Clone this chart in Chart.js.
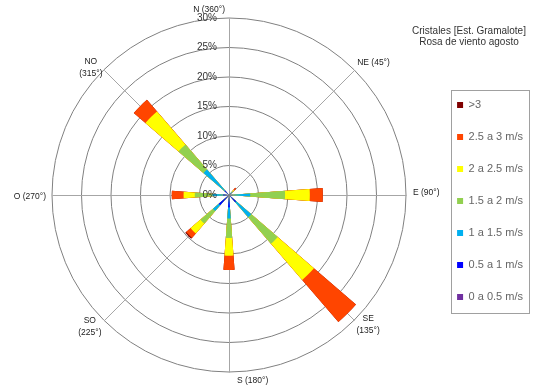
<!DOCTYPE html>
<html>
<head>
<meta charset="utf-8">
<title>Rosa de viento agosto</title>
<script src="https://cdn.jsdelivr.net/npm/chart.js@4.4.1/dist/chart.umd.min.js"></script>
<style>
  html, body { margin: 0; padding: 0; background: #fff; }
</style>
</head>
<body>
<canvas id="rose" width="533" height="385"></canvas>
<script>
// 16 compass directions, frequencies in % per speed class
const directions = ['N', 'NNE', 'NE', 'ENE', 'E', 'ESE', 'SE', 'SSE',
  'S', 'SSW', 'SW', 'WSW', 'W', 'WNW', 'NW', 'NNW'];

const speedClasses = ['0 a 0.5 m/s', '0.5 a 1 m/s', '1 a 1.5 m/s', '1.5 a 2 m/s',
  '2 a 2.5 m/s', '2.5 a 3 m/s', '>3'];
const classColors = ['#7030a0', '#0000ff', '#00b0f0', '#92d050', '#ffff00', '#ff4500', '#800000'];

const v0_05  = [0, 0, 0.1, 0, 0.1, 0, 0.1, 0, 0.1, 0, 0.1, 0, 0.1, 0, 0.1, 0];
const v05_1  = [0, 0, 0.3, 0, 0.5, 0, 1.5, 0, 2.0, 0, 2.2, 0, 0.9, 0, 0.9, 0];
const v1_15  = [0, 0, 0.3, 0, 3.0, 0, 3.4, 0, 1.9, 0, 1.3, 0, 1.8, 0, 4.7, 0];
const v15_2  = [0, 0, 0.2, 0, 5.9, 0, 5.9, 0, 3.3, 0, 2.8, 0, 3.0, 0, 5.6, 0];
const v2_25  = [0, 0, 0.3, 0, 4.2, 0, 8.1, 0, 3.0, 0, 2.2, 0, 1.9, 0, 7.4, 0];
const v25_3  = [0, 0, 0.4, 0, 2.2, 0, 9.4, 0, 2.4, 0, 1.0, 0, 2.0, 0, 2.6, 0];
const v3plus = [0, 0, 0,   0, 0,   0, 0,   0, 0,   0, 0.2, 0, 0,   0, 0,   0];

const compassAngles = [0, 45, 90, 135, 180, 225, 270, 315];
const compassLabels = ['N (360°)', 'NE (45°)', 'E (90°)', ['SE', '(135°)'],
  'S (180°)', ['SO', '(225°)'], 'O (270°)', ['NO', '(315°)']];

const titleLines = ['Cristales [Est. Gramalote]', 'Rosa de viento agosto'];

const petalWidth = 8.5;               // degrees
const gapWidth = 22.5 - petalWidth;

Chart.defaults.font.family = "'Liberation Sans', Arial, sans-serif";

// each class is stacked on the previous ones; dataset 0 is drawn on top
const classValues = [v0_05, v05_1, v1_15, v15_2, v2_25, v25_3, v3plus];
let running = directions.map(() => 0);
const datasets = classValues.map((vals, k) => {
  running = running.map((r, i) => r + vals[i]);
  const data = [];
  running.forEach(r => data.push(r, 0));   // petal, then empty gap
  return {
    label: speedClasses[k],
    data: data,
    backgroundColor: classColors[k],
    borderWidth: 0,
    angle: (c) => c.dataIndex % 2 ? gapWidth : petalWidth
  };
});

const labels = [];
directions.forEach(d => labels.push(d, ''));

const roseDecor = {
  id: 'roseDecor',
  beforeDatasetsDraw(chart) {
    const r = chart.scales.r;
    const ctx = chart.ctx;
    ctx.save();
    ctx.strokeStyle = '#a6a6a6';
    ctx.lineWidth = 1;
    compassAngles.forEach(a => {
      const rad = a * Math.PI / 180;
      ctx.beginPath();
      ctx.moveTo(r.xCenter + 0.5, r.yCenter + 0.5);
      ctx.lineTo(r.xCenter + 0.5 + r.drawingArea * Math.sin(rad), r.yCenter + 0.5 - r.drawingArea * Math.cos(rad));
      ctx.stroke();
    });
    ctx.restore();
  },
  afterDatasetsDraw(chart) {
    const r = chart.scales.r;
    const ctx = chart.ctx;
    ctx.save();
    ctx.font = "10px 'Liberation Sans', Arial, sans-serif";
    ctx.fillStyle = '#333';
    ctx.textAlign = 'right';
    ctx.textBaseline = 'middle';
    r.ticks.forEach(t => {
      ctx.fillText(t.value + '%', r.xCenter - 12, r.yCenter - r.getDistanceFromCenterForValue(t.value));
    });
    ctx.restore();
  },
  afterDraw(chart) {
    const r = chart.scales.r;
    const ctx = chart.ctx;
    ctx.save();
    ctx.font = "8.5px 'Liberation Sans', Arial, sans-serif";
    ctx.fillStyle = '#222';
    ctx.textBaseline = 'middle';
    // text placement around the outer ring
    const place = [
      {align: 'right', dx: -4, dy: -8},
      {align: 'left', dx: 3, dy: -7},
      {align: 'left', dx: 7, dy: -2},
      {align: 'center', dx: 14, dy: 4},
      {align: 'left', dx: 8, dy: 9},
      {align: 'center', dx: -14, dy: 6},
      {align: 'right', dx: -6, dy: 2},
      {align: 'center', dx: -13, dy: -2}
    ];
    compassAngles.forEach((a, i) => {
      const rad = a * Math.PI / 180;
      const x = r.xCenter + r.drawingArea * Math.sin(rad) + place[i].dx;
      const y = r.yCenter - r.drawingArea * Math.cos(rad) + place[i].dy;
      const lines = [].concat(compassLabels[i]);
      ctx.textAlign = place[i].align;
      lines.forEach((ln, j) => {
        ctx.fillText(ln, x, y + (j - (lines.length - 1) / 2) * 12);
      });
    });

    // title
    ctx.font = "10px 'Liberation Sans', Arial, sans-serif";
    ctx.fillStyle = '#333';
    ctx.textAlign = 'center';
    titleLines.forEach((ln, j) => ctx.fillText(ln, chart.width - 64, 31 + j * 11));

    // frame round the legend
    const boxes = chart.legend.legendHitBoxes;
    if (boxes && boxes.length) {
      const top = boxes[0].top - 10;
      const bottom = boxes[boxes.length - 1].top + boxes[boxes.length - 1].height + 10;
      const left = Math.min(...boxes.map(b => b.left)) - 6;
      const right = chart.legend.right - 4;
      ctx.strokeStyle = '#a0a0a0';
      ctx.lineWidth = 1;
      ctx.strokeRect(Math.round(left) + 0.5, Math.round(top) + 0.5, Math.round(right - left), Math.round(bottom - top));
    }
    ctx.restore();
  }
};

const chart = new Chart(document.getElementById('rose'), {
  type: 'polarArea',
  data: { labels: labels, datasets: datasets },
  options: {
    responsive: false,
    animation: false,
    layout: { padding: { left: 22, top: 18, right: 0, bottom: 13 } },
    scales: {
      r: {
        min: 0,
        max: 30,
        startAngle: -petalWidth / 2,
        ticks: { stepSize: 5, display: false },
        grid: { color: '#808080', lineWidth: 1, circular: true },
        angleLines: { display: false },
        pointLabels: { display: false }
      }
    },
    plugins: {
      tooltip: { enabled: false },
      legend: {
        position: 'right',
        title: { display: true, text: '', padding: 0, font: { size: 10 } },
        labels: {
          boxWidth: 6,
          boxHeight: 6,
          padding: 21,
          color: '#595959',
          font: { size: 11 },
          generateLabels: (ch) => ch.data.datasets.map((ds, i) => ({
            text: ds.label,
            fillStyle: ds.backgroundColor,
            strokeStyle: ds.backgroundColor,
            lineWidth: 0,
            hidden: false,
            datasetIndex: i
          })).reverse()
        }
      }
    }
  },
  plugins: [roseDecor]
});
</script>
</body>
</html>
